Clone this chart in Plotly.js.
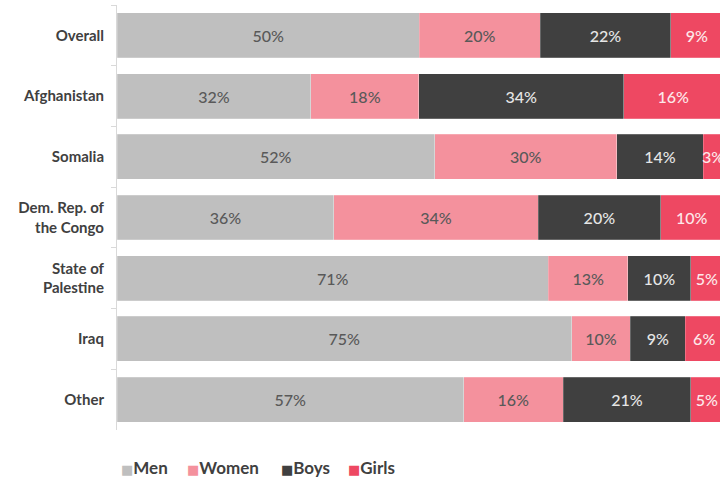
<!DOCTYPE html>
<html>
<head>
<meta charset="utf-8">
<script src="https://cdn.plot.ly/plotly-3.0.1.min.js"></script>
<style>html,body{margin:0;padding:0;background:#fff;}#chart{width:720px;height:481px;}</style>
</head>
<body>
<div id="chart"></div>
<script>
const categories = ["Overall", "Afghanistan", "Somalia", "Dem. Rep. of<br>the Congo", "State of<br>Palestine", "Iraq", "Other"];
// shares in percent (labels show them rounded)
const men   = [49.9, 32.0, 52.4, 35.8, 71.2, 75.0, 57.2];
const women = [19.9, 17.8, 30.1, 33.7, 13.1,  9.7, 16.4];
const boys  = [21.6, 33.8, 14.2, 20.2, 10.4,  9.1, 21.1];
const girls = [ 8.6, 16.4,  3.3, 10.3,  5.3,  6.2,  5.3];

const seriesNames = ["Men", "Women", "Boys", "Girls"];
const seriesValues = [men, women, boys, girls];
const colors = ["#bfbfbf", "#f4919d", "#404040", "#ee4862"];
const textColors = ["#595959", "#595959", "#e6e6e6", "#fde8ea"];

const traces = seriesValues.map((vals, i) => ({
  type: "bar",
  orientation: "h",
  name: seriesNames[i],
  y: categories,
  x: vals,
  text: vals.map(v => Math.round(v) + "%"),
  textposition: "inside",
  insidetextanchor: "middle",
  textangle: 0,
  constraintext: "none",
  textfont: {family: "Lato, sans-serif", size: 16, color: textColors[i], weight: 500},
  hoverinfo: "skip",
  showlegend: false,
  marker: {color: colors[i], line: {color: "rgba(255,255,255,0.35)", width: 0.6}}
}));

// legend drawn as text annotations (square glyph + name)
const legendX = [0.004, 0.113, 0.268, 0.380];
const annotations = seriesNames.map((n, i) => ({
  xref: "paper", yref: "paper",
  x: legendX[i], y: -0.089,
  xanchor: "left", yanchor: "middle",
  showarrow: false,
  text: "<span style='color:" + colors[i] + ";font-family:DejaVu Sans;font-size:13px'>■</span>" + n,
  font: {family: "Lato, sans-serif", size: 17, color: "#404040", weight: "bold"}
}));

const layout = {
  width: 720, height: 481,
  barmode: "stack",
  bargap: 0.26,
  margin: {l: 117, r: 0, t: 5, b: 51},
  paper_bgcolor: "#ffffff",
  plot_bgcolor: "#ffffff",
  uniformtext: {mode: "show", minsize: 16},
  xaxis: {range: [0, 99.5], showticklabels: false, showgrid: false, zeroline: false, showline: false, ticks: ""},
  yaxis: {
    autorange: "reversed",
    showline: true, linecolor: "#d9d9d9", linewidth: 1,
    ticks: "outside", ticklen: 5, tickcolor: "#d9d9d9",
    tickson: "boundaries",
    showgrid: false,
    tickfont: {family: "Lato, sans-serif", size: 15, color: "#404040", weight: "bold"},
    ticklabelstandoff: 9
  },
  showlegend: false,
  annotations: annotations
};

Plotly.newPlot("chart", traces, layout, {displayModeBar: false, staticPlot: true});
</script>
</body>
</html>
